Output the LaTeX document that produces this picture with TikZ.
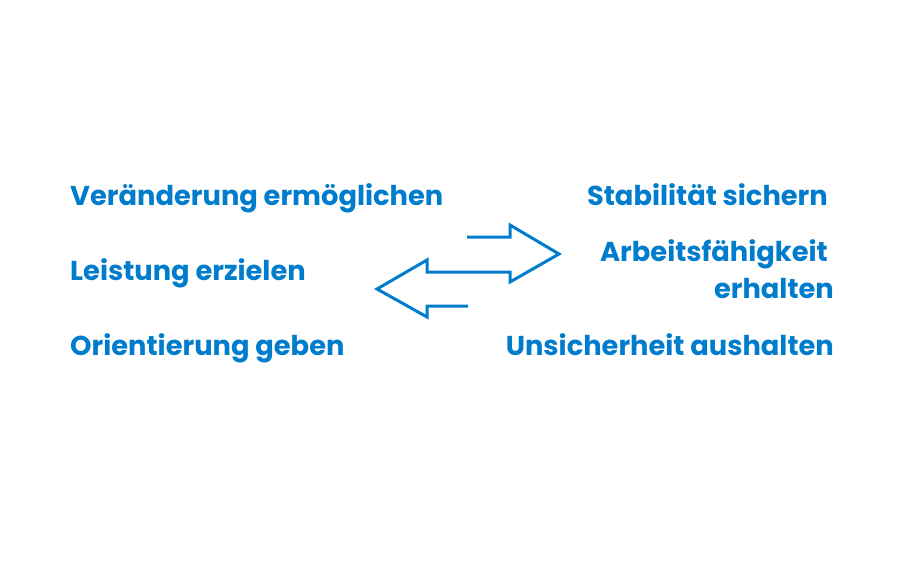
\documentclass[tikz,border=0pt]{standalone}
\usepackage{fontspec}
\setmainfont{Poppins}
\definecolor{blu}{RGB}{0,124,204}
\begin{document}
\begin{tikzpicture}[x=1pt,y=-1pt,
  lbl/.style={inner sep=0pt,text=blu,font=\bfseries\fontsize{27.3}{32}\selectfont},
  arr/.style={draw=blu,line width=3pt,line join=miter,line cap=butt}]
\useasboundingbox (0,0) rectangle (907,567);
\node[lbl,anchor=base west] (l1) at (70,205) {Veränderung ermöglichen};
\node[lbl,anchor=base west] (l2) at (70,280) {Leistung erzielen};
\node[lbl,anchor=base west] (l3) at (70,355) {Orientierung geben};
\node[lbl,anchor=base east] (r1) at (828,205) {Stabilität sichern};
\node[lbl,anchor=base east] (r2) at (828,261) {Arbeitsfähigkeit};
\node[lbl,anchor=base east] (r3) at (834,298) {erhalten};
\node[lbl,anchor=base east] (r4) at (834,355) {Unsicherheit aushalten};
\coordinate (s) at (467,237);
\coordinate (e) at (468,306);
\draw[arr] (s) -- (510,237) -- (510,225) -- (559,254) -- (510,282) -- (510,272) -- (427,272) -- (427,260) -- (377,289) -- (427,317) -- (427,306) -- (e);
\end{tikzpicture}
\end{document}
